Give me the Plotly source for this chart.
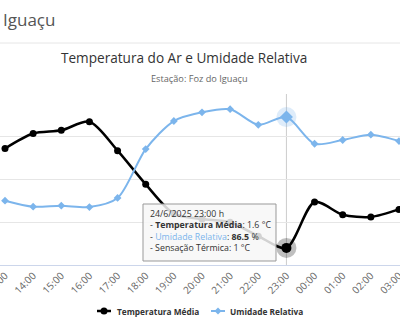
import plotly.graph_objects as go

hours = ["13:00", "14:00", "15:00", "16:00", "17:00", "18:00", "19:00", "20:00",
         "21:00", "22:00", "23:00", "00:00", "01:00", "02:00", "03:00"]
temp_media = [10.9, 12.3, 12.6, 13.4, 10.7, 7.55, 4.8, 4.3, 4.0, 2.7, 1.6, 5.9, 4.7, 4.5, 5.2]
umidade = [37.6, 34.1, 34.7, 33.9, 39.2, 67.8, 84.2, 89.3, 91.1, 82.0, 86.5, 70.9, 73.1, 76.2, 72.5]
hover_idx = 10
tooltip_date = "24/6/2025 23:00 h"
sensacao = 1

W, H = 400, 333
L, R, T, B = 0, 0, 94, 68
PH = H - T - B
FONT = "Open Sans"


def px(x):
    return x / W


def py(y):
    return (H - B - y) / PH


BLACK = "#000000"
BLUE = "#7cb5ec"

fig = go.Figure()
fig.add_trace(go.Scatter(
    x=hours, y=umidade, yaxis="y2", mode="lines+markers",
    line=dict(color=BLUE, width=2, shape="spline", smoothing=0.8),
    marker=dict(symbol="diamond", size=6, color=BLUE), hoverinfo="skip"))
fig.add_trace(go.Scatter(
    x=hours, y=temp_media, mode="lines+markers",
    line=dict(color=BLACK, width=2.5, shape="spline", smoothing=0.8),
    marker=dict(symbol="circle", size=7, color=BLACK), hoverinfo="skip"))
# hover halos
fig.add_trace(go.Scatter(
    x=[hours[hover_idx]], y=[umidade[hover_idx]], yaxis="y2", mode="markers",
    marker=dict(symbol="circle", size=20, color="rgba(124,181,236,0.25)"), hoverinfo="skip"))
fig.add_trace(go.Scatter(
    x=[hours[hover_idx]], y=[umidade[hover_idx]], yaxis="y2", mode="markers",
    marker=dict(symbol="diamond", size=10, color=BLUE), hoverinfo="skip"))
fig.add_trace(go.Scatter(
    x=[hours[hover_idx]], y=[temp_media[hover_idx]], mode="markers",
    marker=dict(symbol="circle", size=20, color="rgba(0,0,0,0.25)"), hoverinfo="skip"))
fig.add_trace(go.Scatter(
    x=[hours[hover_idx]], y=[temp_media[hover_idx]], mode="markers",
    marker=dict(symbol="circle", size=10, color=BLACK), hoverinfo="skip"))

shapes = []
# crosshair
shapes.append(dict(type="line", xref="x", yref="paper", x0=hover_idx, x1=hover_idx, y0=0, y1=1,
                   line=dict(color="#cccccc", width=1), layer="between"))
# header separator
shapes.append(dict(type="line", xref="paper", yref="paper", x0=0, x1=1, y0=py(43), y1=py(43),
                   line=dict(color="#e6e6e6", width=1)))
# tooltip box
shapes.append(dict(type="rect", xref="paper", yref="paper", x0=px(143), x1=px(276), y0=py(204), y1=py(261),
                   fillcolor="rgba(247,247,247,0.85)", line=dict(color="#999999", width=1), layer="above"))
# legend symbols
ly = 311
shapes.append(dict(type="line", xref="paper", yref="paper", x0=px(97), x1=px(111), y0=py(ly), y1=py(ly),
                   line=dict(color=BLACK, width=2.5)))
shapes.append(dict(type="circle", xref="paper", yref="paper", x0=px(100.5), x1=px(107.5), y0=py(ly + 3.5), y1=py(ly - 3.5),
                   fillcolor=BLACK, line=dict(width=0)))
shapes.append(dict(type="line", xref="paper", yref="paper", x0=px(211), x1=px(225), y0=py(ly), y1=py(ly),
                   line=dict(color=BLUE, width=2)))
cx = 218
shapes.append(dict(type="path", xref="paper", yref="paper",
                   path=f"M {px(cx-3.5)} {py(ly)} L {px(cx)} {py(ly-3.5)} L {px(cx+3.5)} {py(ly)} L {px(cx)} {py(ly+3.5)} Z",
                   fillcolor=BLUE, line=dict(width=0)))

ann = []
ann.append(dict(text="Iguaçu", x=px(1), y=py(20), xref="paper", yref="paper", xanchor="left", yanchor="middle",
                showarrow=False, font=dict(family=FONT, size=17, color="#555555")))
ann.append(dict(text="Temperatura do Ar e Umidade Relativa", x=px(184), y=py(57), xref="paper", yref="paper",
                xanchor="center", yanchor="middle", showarrow=False, font=dict(family=FONT, size=13.6, color="#333333")))
ann.append(dict(text="Estação: Foz do Iguaçu", x=px(199), y=py(78), xref="paper", yref="paper",
                xanchor="center", yanchor="middle", showarrow=False, font=dict(family=FONT, size=9.2, color="#666666")))
# tooltip (one multi-line text)
tt_text = "<br>".join([
    tooltip_date,
    f"- <b>Temperatura Média</b>: {temp_media[hover_idx]} °C",
    f"- <span style='color:{BLUE}'>Umidade Relativa</span>: <b>{umidade[hover_idx]}</b> %",
    f"- Sensação Térmica: {sensacao} °C",
])
ann.append(dict(text=tt_text, x=px(149), y=py(230.8), xref="paper", yref="paper", xanchor="left", yanchor="middle",
                align="left", showarrow=False, borderpad=0, font=dict(family=FONT, size=8.8, color="#333333")))
# legend text
ann.append(dict(text="<b>Temperatura Média</b>", x=px(115), y=py(ly), xref="paper", yref="paper", xanchor="left",
                yanchor="middle", showarrow=False, font=dict(family=FONT, size=8.3, color="#333333")))
ann.append(dict(text="<b>Umidade Relativa</b>", x=px(228), y=py(ly), xref="paper", yref="paper", xanchor="left",
                yanchor="middle", showarrow=False, font=dict(family=FONT, size=8.3, color="#333333")))

fig.update_layout(
    width=W, height=H, margin=dict(l=L, r=R, t=T, b=B, pad=0, autoexpand=False),
    paper_bgcolor="white", plot_bgcolor="white", showlegend=False,
    font=dict(family=FONT),
    xaxis=dict(type="category", range=[-0.178, 14.036], showgrid=False, showline=True, linecolor="#ccd6eb",
               ticks="", tickangle=-45, tickfont=dict(family=FONT, size=10, color="#666666"),
               automargin=False, fixedrange=True),
    yaxis=dict(range=[0, 16], dtick=4, showgrid=True, gridcolor="#e6e6e6", showticklabels=False,
               zeroline=False, automargin=False, fixedrange=True),
    yaxis2=dict(range=[0, 100], overlaying="y", visible=False, fixedrange=True),
    shapes=shapes, annotations=ann,
)

fig.write_html("out.html")
